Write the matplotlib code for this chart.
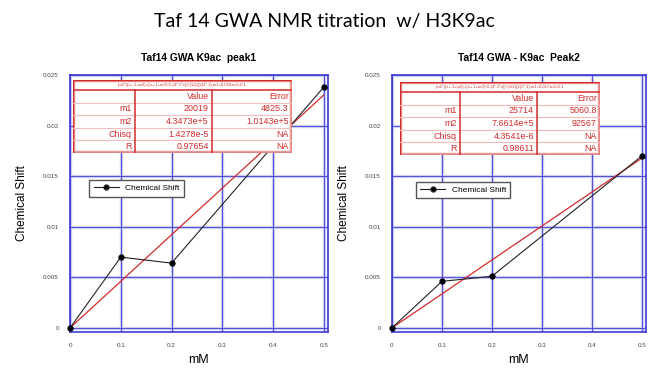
import numpy as np
import matplotlib
matplotlib.use('Agg')
import matplotlib.pyplot as plt
from matplotlib.lines import Line2D

plt.rcParams['font.family'] = ['Liberation Sans', 'DejaVu Sans']

# titration points (mM ligand vs chemical shift)
conc = [0.0, 0.1, 0.2, 0.5]
shift_peak1 = [0.0, 0.0070, 0.0064, 0.0238]
shift_peak2 = [0.0, 0.0046, 0.0051, 0.0170]

# fit parameters from the fit tables
fit1 = {'m1': 20019, 'm2': 4.3473e5}
fit2 = {'m1': 25714, 'm2': 7.6614e5}

table1 = [['m1', '20019', '4825.3'],
          ['m2', '4.3473e+5', '1.0143e+5'],
          ['Chisq', '1.4278e-5', 'NA'],
          ['R', '0.97654', 'NA']]
table2 = [['m1', '25714', '5060.8'],
          ['m2', '7.6614e+5', '92567'],
          ['Chisq', '4.3541e-6', 'NA'],
          ['R', '0.98611', 'NA']]
formula1 = "(m1*((x+.1+m2)-((x+.1+m2)^2-(4*.1*x))^(1/2)))/(2*.1);m1=0.024;m2=0.1"
formula2 = "(m1*((x+.1+m2)-((x+.1+m2)^2-(4*.1*x))^(1/2)))/(2*.1);m1=0.017;m2=0.1"

titles = ['Taf14 GWA K9ac  peak1', 'Taf14 GWA - K9ac  Peak2']
xticks = [0, 0.1, 0.2, 0.3, 0.4, 0.5]
yticks = [0, 0.005, 0.01, 0.015, 0.02, 0.025]
yticklabels = ['0', '0.005', '0.01', '0.015', '0.02', '0.025']

BLUE = '#3b3bd6'
HALO = '#cfcff4'
RED = '#d42a2a'


def binding(x, m1, m2, p=0.1):
    a = x + p + m2
    b = 4 * p * x
    # stable form of a - sqrt(a^2 - b)
    return m1 * (b / (a + np.sqrt(a * a - b))) / (2 * p)


fig = plt.figure(figsize=(6.49, 3.70), dpi=100)
fig.text(0.5, 0.943, 'Taf 14 GWA NMR titration  w/ H3K9ac', ha='center', va='center',
         fontsize=14, family='Lato')

ax_pos = [[0.108, 0.103, 0.397, 0.694], [0.604, 0.103, 0.391, 0.694]]
tab_pos = [[0.1125, 0.5865, 0.3374, 0.197], [0.6163, 0.581, 0.308, 0.197]]
col_split = [[0.283, 0.635], [0.30, 0.685]]
legend_anchor = [(0.075, 0.59), (0.095, 0.585)]

for k, (shift, fit, tab, formula) in enumerate([(shift_peak1, fit1, table1, formula1),
                                                 (shift_peak2, fit2, table2, formula2)]):
    ax = fig.add_axes(ax_pos[k])
    ax.set_xlim(0, 0.508)
    ax.set_ylim(-0.0004, 0.025)
    ax.set_xticks(xticks)
    ax.set_xticklabels([str(v) if v else '0' for v in xticks])
    ax.set_yticks(yticks)
    ax.set_yticklabels(yticklabels)
    ax.tick_params(labelsize=4.5, length=0, pad=8, colors='#444444')
    for v in xticks:
        ax.axvline(v, color=HALO, lw=2.4, zorder=0)
        ax.axvline(v, color=BLUE, lw=0.6, zorder=0.5)
    for v in yticks:
        ax.axhline(v, color=HALO, lw=2.4, zorder=0)
        ax.axhline(v, color=BLUE, lw=0.6, zorder=0.5)
    for s in ax.spines.values():
        s.set_color(BLUE)
        s.set_linewidth(1.2)

    xf = np.linspace(0, 0.5, 100)
    ax.plot(xf, binding(xf, fit['m1'], fit['m2']), color=RED, lw=0.9, zorder=3)
    ax.plot(conc, shift, color='#222222', lw=0.8, marker='o', ms=3.5,
            markerfacecolor='black', markeredgecolor='black', zorder=4, clip_on=False)

    ax.set_title(titles[k], fontsize=7.4, fontweight='bold', pad=10)
    ax.set_xlabel('mM', fontsize=9, labelpad=4)
    ax.set_ylabel('Chemical Shift', fontsize=8.5, labelpad=11)

    h = Line2D([0], [0], color='#222222', lw=0.8, marker='o', ms=3.5,
               markerfacecolor='black')
    leg = ax.legend([h], ['Chemical Shift'], loc='upper left', bbox_to_anchor=legend_anchor[k],
                    fontsize=6, fancybox=False, framealpha=1, edgecolor='#555555',
                    handlelength=3, borderpad=0.5, borderaxespad=0)
    leg.get_frame().set_linewidth(1.0)
    leg.set_zorder(5)

    # fit results table
    tx = fig.add_axes(tab_pos[k])
    tx.set_xlim(0, 1)
    tx.set_ylim(0, 1)
    tx.axis('off')
    tx.set_zorder(6)
    tx.add_patch(plt.Rectangle((0, 0), 1, 1, facecolor='white', edgecolor='none'))
    top = 1 - 10 / 73
    row_h = top / 5
    for r in range(1, 5):
        yy = top - r * row_h
        tx.plot([0, 1], [yy, yy], color='#f2bcbc', lw=0.8)
    tx.plot([0, 1], [top, top], color=RED, lw=1.1)
    c1, c2 = col_split[k]
    for cx in (c1, c2):
        tx.plot([cx, cx], [0, top], color=RED, lw=1.1)
    tx.add_patch(plt.Rectangle((0, 0), 1, 1, facecolor='none', edgecolor='#e89a9a', lw=3.2))
    tx.add_patch(plt.Rectangle((0, 0), 1, 1, facecolor='none', edgecolor=RED, lw=1.0))
    tx.text(0.5, (1 + top) / 2, formula, ha='center', va='center', fontsize=3, color=RED)
    yc = top - row_h / 2
    tx.text(c2 - 0.015, yc, 'Value', ha='right', va='center', fontsize=6.4, color=RED)
    tx.text(0.985, yc, 'Error', ha='right', va='center', fontsize=6.4, color=RED)
    for r, row in enumerate(tab):
        yc = top - (r + 1.5) * row_h
        tx.text(c1 - 0.015, yc, row[0], ha='right', va='center', fontsize=6.4, color=RED)
        tx.text(c2 - 0.015, yc, row[1], ha='right', va='center', fontsize=6.4, color=RED)
        tx.text(0.985, yc, row[2], ha='right', va='center', fontsize=6.4, color=RED)

fig.savefig('out.png', dpi=100)
